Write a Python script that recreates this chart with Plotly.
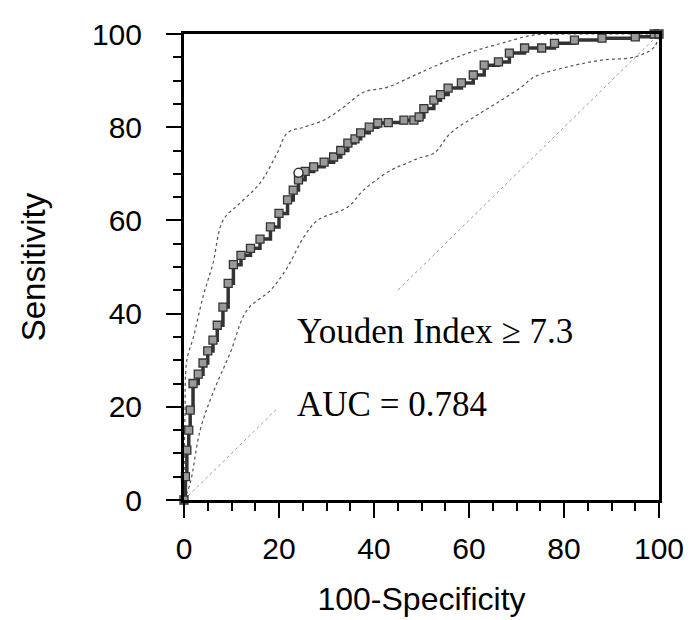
import plotly.graph_objects as go

# ROC curve (100-Specificity, Sensitivity)
roc_fpr = [0, 0.3, 0.6, 1.0, 1.3, 1.9, 3, 4, 5, 6.1, 7, 8.2, 9.3, 10.4, 12, 14, 16, 18.2, 20,
           21.8, 23, 24.1, 25.5, 27.3, 29.5, 31.5, 33, 34.5, 36, 37.2, 39, 40.8, 43, 46.3,
           48.4, 49.5, 50.5, 52.6, 54, 55.6, 58.4, 60.9, 63.2, 66.2, 68.5, 71.7, 75.3, 78,
           82.2, 88, 95, 99, 100]
roc_tpr = [0, 5, 10.7, 15, 19.3, 25, 27, 29.4, 32, 34.3, 37.5, 41.4, 46.5, 50.5, 52.5, 54, 56,
           58.6, 61.5, 64.4, 66.5, 68.7, 70.5, 71.5, 72.5, 73.6, 75, 76.6, 77.5, 78.8, 80, 80.9,
           81, 81.5, 81.5, 82.2, 84, 85.8, 87, 88.4, 89.5, 91.2, 93.3, 94, 95.9, 97, 97, 98,
           98.7, 99.1, 99.4, 100, 100]

# Upper confidence bound
upper_fpr = [0, 0.2, 0.6, 2, 4, 6.1, 8.2, 11.8, 16, 19.6, 21.8, 25.2, 29.4, 33.6, 37.8, 42.9,
             47.8, 52.6, 59.8, 66.8, 73.8, 80, 100]
upper_tpr = [0, 18, 30, 35, 43.6, 50.8, 60, 63.7, 68, 74.4, 78.8, 80, 81.5, 84.3, 87.5, 88.6,
             90.8, 93, 95.9, 98, 99.8, 100, 100]

# Lower confidence bound
lower_fpr = [0, 1.3, 3.4, 6.1, 9.7, 13.3, 18.2, 21.8, 25.2, 28.1, 34.5, 37.8, 43.6, 47, 49.5,
             52.6, 56.2, 61.1, 66.8, 71, 73.8, 81, 88, 95, 99, 100]
lower_tpr = [0, 3.6, 15, 23, 31.5, 40.8, 45, 50, 56.4, 60, 62.9, 66.5, 70.8, 72.3, 73.4, 74.4,
             78.8, 82.2, 85.8, 88.6, 90.8, 93, 94.4, 95.1, 97.2, 100]

# Reference diagonal
diag_x = [0, 100]
diag_y = [0, 100]

# Optimal (Youden) point
youden_x = [24.1]
youden_y = [70.2]

tick_vals = [0, 20, 40, 60, 80, 100]
annot_youden = "Youden Index \u2265 7.3"
annot_auc = "AUC = 0.784"

fig = go.Figure()
fig.add_trace(go.Scatter(x=diag_x, y=diag_y, mode="lines",
                         line=dict(color="#9a9a9a", width=1, dash="dot"), hoverinfo="skip"))
fig.add_trace(go.Scatter(x=upper_fpr, y=upper_tpr, mode="lines", line_shape="spline",
                         line=dict(color="#555555", width=1.2, dash="dot")))
fig.add_trace(go.Scatter(x=lower_fpr, y=lower_tpr, mode="lines", line_shape="spline",
                         line=dict(color="#555555", width=1.2, dash="dot")))
fig.add_trace(go.Scatter(x=roc_fpr, y=roc_tpr, mode="lines+markers", line_shape="hv",
                         line=dict(color="#333333", width=3.5),
                         marker=dict(symbol="square", size=8, color="#9a9a9a",
                                     line=dict(color="#333333", width=1.3)),
                         cliponaxis=False))
fig.add_trace(go.Scatter(x=youden_x, y=youden_y, mode="markers",
                         marker=dict(symbol="circle", size=9, color="white",
                                     line=dict(color="#333333", width=1.5)),
                         cliponaxis=False))

serif = "Liberation Serif, Times New Roman, serif"
fig.add_annotation(x=19.3, y=36.2, xref="x", yref="y", text=annot_youden, showarrow=False,
                   xanchor="left", yanchor="middle", font=dict(family=serif, size=35, color="black"),
                   bgcolor="white", borderpad=20)
fig.add_annotation(x=19.3, y=20.4, xref="x", yref="y", text=annot_auc, showarrow=False,
                   xanchor="left", yanchor="middle", font=dict(family=serif, size=35, color="black"),
                   bgcolor="white", borderpad=20)

sans = "Liberation Sans, Arial, sans-serif"
axis_common = dict(
    range=[0, 100], tickvals=tick_vals, ticks="outside", ticklen=15, tickwidth=2,
    tickcolor="black", showline=True, linecolor="black", linewidth=3, mirror=True,
    showgrid=False, zeroline=False, automargin=False,
    tickfont=dict(family=sans, size=30, color="black"),
    minor=dict(dtick=5, ticks="outside", ticklen=8, tickwidth=2, tickcolor="black", showgrid=False),
)
fig.update_xaxes(**axis_common, ticklabelstandoff=5,
                 title=dict(text="100-Specificity", standoff=24,
                            font=dict(family=sans, size=32, color="black")))
fig.update_yaxes(**axis_common, ticklabelstandoff=18,
                 title=dict(text="Sensitivity", standoff=37,
                            font=dict(family=sans, size=33, color="black")))
fig.update_layout(width=691, height=620, showlegend=False, plot_bgcolor="white",
                  paper_bgcolor="white", margin=dict(l=176, r=40, t=26, b=128))
fig.write_html("out.html")
